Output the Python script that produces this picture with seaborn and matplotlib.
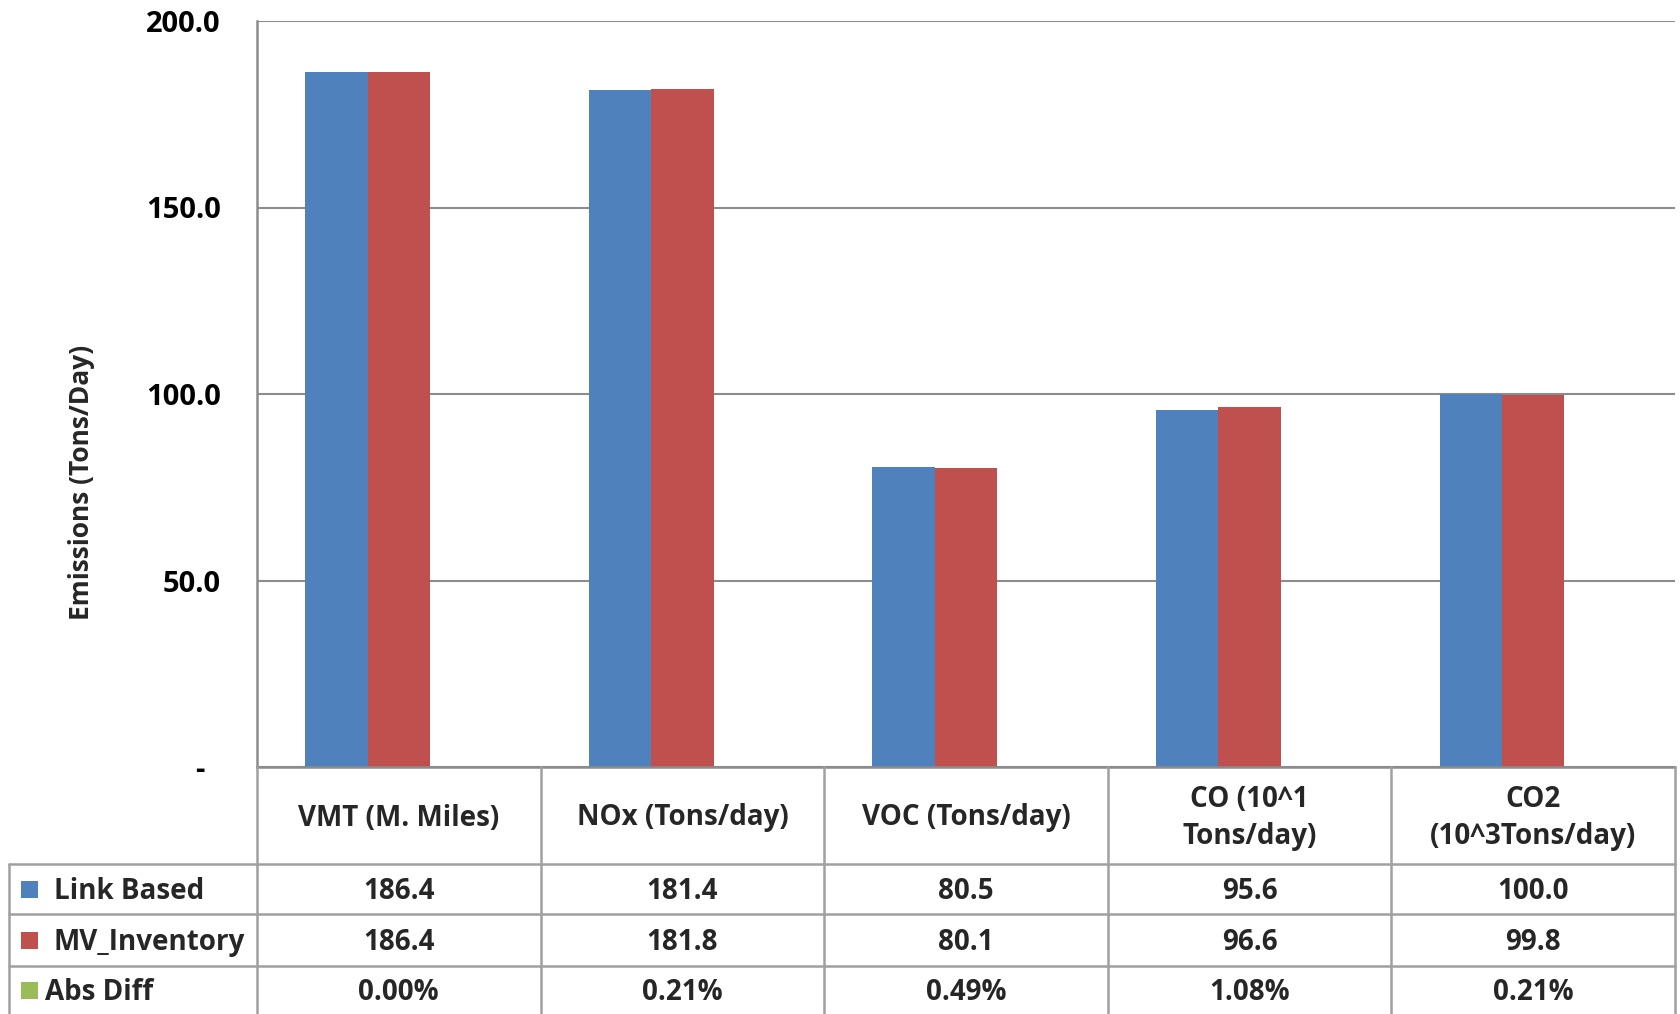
import numpy as np
import pandas as pd
import matplotlib
matplotlib.use("Agg")
import matplotlib.pyplot as plt
import seaborn as sns
from matplotlib.patches import Rectangle
from matplotlib.lines import Line2D
from matplotlib.transforms import blended_transform_factory

# ---------------- data ----------------
categories = ["VMT (M. Miles)", "NOx (Tons/day)", "VOC (Tons/day)",
              "CO (10^1\nTons/day)", "CO2\n(10^3Tons/day)"]
link_based = [186.4, 181.4, 80.5, 95.6, 100.0]
mv_inventory = [186.4, 181.8, 80.1, 96.6, 99.8]
abs_diff = [0.0000, 0.0021, 0.0049, 0.0108, 0.0021]
series_names = ["Link Based", "MV_Inventory", "Abs Diff"]
colors = ["#4F81BD", "#C0504D", "#9BBB59"]
y_ticks = [0, 50, 100, 150, 200]
y_label = "Emissions (Tons/Day)"

# ---------------- style ----------------
sns.set_theme(style="white")
plt.rcParams["font.family"] = ["Open Sans", "DejaVu Sans"]
plt.rcParams["font.weight"] = "bold"

W, H = 1681, 1014
fig = plt.figure(figsize=(W / 100, H / 100), dpi=100)

def fy(px):  # pixel-from-top -> figure fraction
    return 1 - px / H

def fx(px):
    return px / W

ax_left, ax_right, ax_top, ax_bottom = 257, 1675, 21, 767
ax = fig.add_axes([fx(ax_left), fy(ax_bottom), (ax_right - ax_left) / W,
                   (ax_bottom - ax_top) / H])

keys = [f"c{i}" for i in range(len(categories))]
df = pd.DataFrame({
    "cat": keys * 3,
    "series": sum([[s] * len(keys) for s in series_names], []),
    "value": link_based + mv_inventory + abs_diff,
})

sns.barplot(data=df, x="cat", y="value", hue="series", order=keys,
            hue_order=series_names, palette=colors, width=0.66, gap=0,
            linewidth=0, saturation=1, ax=ax, legend=False, errorbar=None)

grid_c = "#8c8c8c"
ax.set_xlim(-0.5, len(keys) - 0.5)
ax.set_ylim(0, 200)
ax.set_yticks(y_ticks)
ax.set_yticklabels(["-  " if v == 0 else f"{v:.1f}" for v in y_ticks],
                   fontweight="bold", fontsize=21, color="black")
ax.tick_params(axis="y", length=0, pad=26)
ax.set_xticks([])
ax.set_xlabel("")
ax.set_ylabel("")
ax.yaxis.grid(True, color=grid_c, lw=1.5)
ax.set_axisbelow(True)
for s in ["top", "right"]:
    ax.spines[s].set_visible(False)
for s in ["left", "bottom"]:
    ax.spines[s].set_color(grid_c)
    ax.spines[s].set_linewidth(1.8)

fig.text(fx(82), fy(482), y_label, rotation=90, ha="center", va="center",
         fontsize=19, fontweight="bold")

# ---------------- data table ----------------
tr = blended_transform_factory(ax.transData, fig.transFigure)
line_c = "#a0a0a0"
lw = 1.8
rows_y = [767, 864, 914, 966, 1014]
dy = 2.5  # small downward text offset

# horizontal lines
for y in rows_y[1:4]:
    fig.add_artist(Line2D([fx(9), fx(ax_right)], [fy(y), fy(y)], color=line_c,
                          lw=lw, transform=fig.transFigure))
# vertical lines
fig.add_artist(Line2D([fx(9), fx(9)], [fy(864), fy(1014)], color=line_c, lw=lw,
                      transform=fig.transFigure))
fig.add_artist(Line2D([fx(ax_left), fx(ax_left)], [fy(767), fy(1014)], color=line_c,
                      lw=lw, transform=fig.transFigure))
for b in np.arange(0.5, len(keys), 1.0):
    fig.add_artist(Line2D([b, b], [fy(767), fy(1014)], color=line_c, lw=lw,
                          transform=tr))

# header
for i, c in enumerate(categories):
    fig.text(i, fy((767 + 864) / 2 + dy), c, transform=tr, ha="center",
             va="center", fontsize=20, fontweight="bold", linespacing=1.35)

# rows
row_vals = [link_based, mv_inventory, abs_diff]
for r, (name, vals, col) in enumerate(zip(series_names, row_vals, colors)):
    yc = (rows_y[r + 1] + rows_y[r + 2]) / 2
    sq = 17
    fig.add_artist(Rectangle((fx(21), fy(yc + sq / 2)), sq / W, sq / H,
                             facecolor=col, edgecolor="none",
                             transform=fig.transFigure))
    tx = 45 if name == "Abs Diff" else 54
    fig.text(fx(tx), fy(yc + dy), name, ha="left", va="center", fontsize=20,
             fontweight="bold")
    for i, v in enumerate(vals):
        s = f"{v * 100:.2f}%" if name == "Abs Diff" else f"{v:.1f}"
        fig.text(i, fy(yc + dy), s, transform=tr, ha="center", va="center",
                 fontsize=20, fontweight="bold")

fig.savefig("out.png", dpi=100)
